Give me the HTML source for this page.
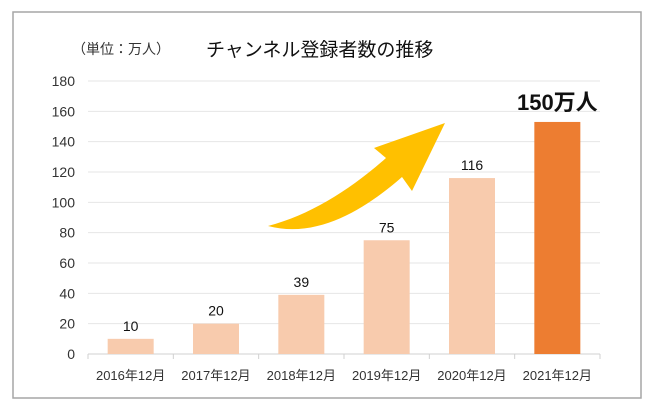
<!DOCTYPE html>
<html><head><meta charset="utf-8"><style>
body{margin:0;background:#fff;}
svg{display:block;font-family:"Liberation Sans","Noto Sans CJK JP",sans-serif;}
</style></head><body>
<svg id="c" width="650" height="411">
<rect x="13" y="12" width="628" height="386" fill="#fff" stroke="#a6a6a6" stroke-width="1.5"/>
<text x="72" y="54" font-size="14" fill="#333">（単位：万人）</text>
<text x="206" y="56" font-size="19" fill="#111">チャンネル登録者数の推移</text>
<g id="grid"></g><g id="bars"></g><g id="labels"></g>
<path d="M268,226 C320,240 370,205 402,177 L412,191 L445,123 L374,148 L386,158 C350,190 310,215 268,226 Z" fill="#ffc000"/>
</svg>
<script>
const categories=["2016年12月","2017年12月","2018年12月","2019年12月","2020年12月","2021年12月"];
const values=[10,20,39,75,116,153];
const valueLabels=["10","20","39","75","116","150万人"];
const yTicks=[0,20,40,60,80,100,120,140,160,180];
const svg=document.getElementById('c'),NS="http://www.w3.org/2000/svg";
const x0=88,x1=600,yb=354,yt=81,ymax=180;
const y=v=>yb-(v/ymax)*(yb-yt);
const bw=(x1-x0)/categories.length;
const xc=i=>x0+bw*(i+0.5);
function mk(t,a,p){const e=document.createElementNS(NS,t);for(const k in a)e.setAttribute(k,a[k]);p.appendChild(e);return e;}
const g=document.getElementById('grid'),b=document.getElementById('bars'),l=document.getElementById('labels');
yTicks.forEach(v=>{
 const ln=mk('line',{x1:x0,x2:x1,y1:y(v),y2:y(v),stroke:v===0?'#d0d0d0':'#e6e6e6','stroke-width':1},g);
 
 
 const t=mk('text',{x:75,y:y(v)+5,'text-anchor':'end','font-size':14,fill:'#333'},g);t.textContent=v;
 
 
});
for(let i=0;i<=categories.length;i++){const tk=mk('line',{x1:x0+bw*i,x2:x0+bw*i,y1:yb,y2:yb+5,stroke:'#d0d0d0'},g);
 
 }
categories.forEach((c,i)=>{
 const last=i===categories.length-1;
 const r=mk('rect',{x:xc(i)-23,y:y(values[i]),width:46,height:yb-y(values[i]),fill:last?'#ed7d31':'#f8cbad'},b);
 
 
 const t=mk('text',{x:xc(i),y:yb+26,'text-anchor':'middle','font-size':13,fill:'#333'},l);t.textContent=c;
 
 
 const vl=mk('text',{x:xc(i),y:last?y(values[i])-12:y(values[i])-8,'text-anchor':'middle','font-size':last?22:14,'font-weight':last?'bold':'normal',fill:'#111'},l);vl.textContent=valueLabels[i];
 
 
});
</script>
</body></html>
